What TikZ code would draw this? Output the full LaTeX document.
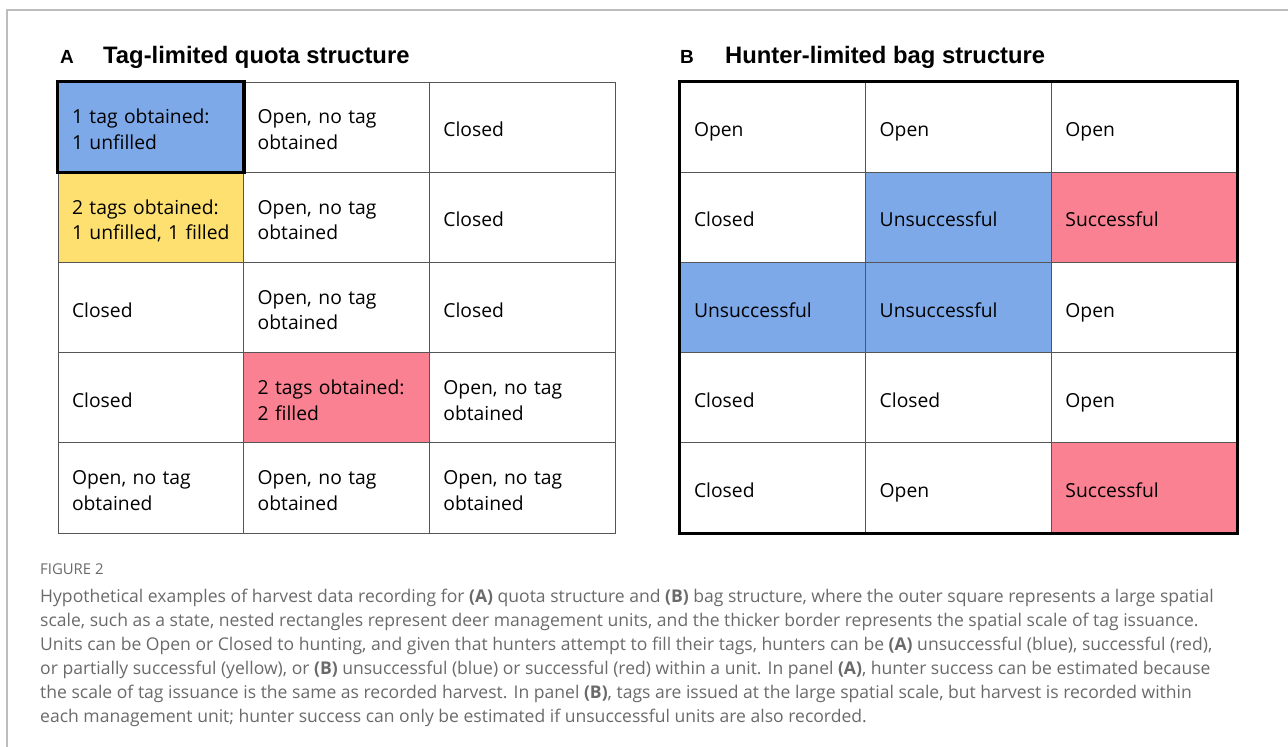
\documentclass[tikz,border=0pt]{standalone}
\usepackage{fontspec}
\setmainfont{Open Sans}
\newfontfamily\titlefont{Liberation Sans}
\newfontfamily\cellfont{Open Sans}

\definecolor{unfilled}{HTML}{7DA9E9}
\definecolor{partial}{HTML}{FDE06F}
\definecolor{filled}{HTML}{F98192}
\definecolor{gridline}{HTML}{555555}
\definecolor{captiongray}{HTML}{6A6A6A}
\definecolor{framegray}{HTML}{BDBDBD}

% uneven struts so every unit's text sits a little below centre
\newcommand{\unittop}{\rule{0pt}{27pt}}
\newcommand{\unitbottom}{\rule[-8pt]{0pt}{8pt}}

\begin{document}
\begin{tikzpicture}[
	x=1pt, y=-1pt,
	unit/.style={draw=gridline, line width=1pt, rectangle, minimum width=185.7pt,
		minimum height=90.2pt, text width=157.7pt, inner xsep=14pt, inner ysep=0pt,
		align=left, font=\cellfont\fontsize{19.3}{25.6}\selectfont,
		execute at begin node=\unittop, execute at end node=\unitbottom},
	issue border/.style={draw=black, line width=3.5pt},
	panel letter/.style={anchor=base west, inner sep=0pt, font=\titlefont\bfseries\fontsize{19}{20}\selectfont},
	panel title/.style={anchor=base west, inner sep=0pt, font=\titlefont\bfseries\fontsize{23.8}{26}\selectfont},
	caption/.style={anchor=base west, text=captiongray, inner sep=0pt, align=left}]

	\useasboundingbox (0,0) rectangle (1288,747);
	\draw[framegray, line width=1.5pt] (1288,10) -| (7,747);

	% panel A: tags issued per unit
	\node[panel letter] (A-letter) at (60,63) {A};
	\node[panel title] (A-title) at (103,63) {Tag-limited quota structure};
	\foreach \c/\r/\txt/\shade in {
		1/1/{1 tag obtained:\\1 unfilled}/unfilled, 2/1/{Open, no tag\\obtained}/white, 3/1/{Closed}/white,
		1/2/{2 tags obtained:\\1 unfilled, 1 filled}/partial, 2/2/{Open, no tag\\obtained}/white, 3/2/{Closed}/white,
		1/3/{Closed}/white, 2/3/{Open, no tag\\obtained}/white, 3/3/{Closed}/white,
		1/4/{Closed}/white, 2/4/{2 tags obtained:\\2 filled}/filled, 3/4/{Open, no tag\\obtained}/white,
		1/5/{Open, no tag\\obtained}/white, 2/5/{Open, no tag\\obtained}/white, 3/5/{Open, no tag\\obtained}/white}
		\node[unit, fill=\shade] (A-\r-\c) at ({58+(\c-0.5)*185.7}, {82+(\r-0.5)*90.2}) {\txt};
	\draw[issue border] (A-1-1.north west) rectangle (A-1-1.south east);

	% panel B: tags issued over the whole area
	\node[panel letter] (B-letter) at (680,63) {B};
	\node[panel title] (B-title) at (725,63) {Hunter-limited bag structure};
	\foreach \c/\r/\txt/\shade in {
		1/1/Open/white, 2/1/Open/white, 3/1/Open/white,
		1/2/Closed/white, 2/2/Unsuccessful/unfilled, 3/2/Successful/filled,
		1/3/Unsuccessful/unfilled, 2/3/Unsuccessful/unfilled, 3/3/Open/white,
		1/4/Closed/white, 2/4/Closed/white, 3/4/Open/white,
		1/5/Closed/white, 2/5/Open/white, 3/5/Successful/filled}
		\node[unit, fill=\shade] (B-\r-\c) at ({680+(\c-0.5)*185.7}, {82+(\r-0.5)*90.2}) {\txt};
	\draw[issue border] (B-1-1.north west) rectangle (B-5-3.south east);

	% caption (base anchor sits on the last line)
	\node[caption, font=\fontsize{14.9}{16}\selectfont] (fig-label) at (40,574.5) {FIGURE 2};
	\node[caption, font=\fontsize{17.55}{24}\selectfont] (fig-caption) at (40,722) {%
		Hypothetical examples of harvest data recording for \textbf{(A)} quota structure and \textbf{(B)} bag structure, where the outer square represents a large spatial\\
		scale, such as a state, nested rectangles represent deer management units, and the thicker border represents the spatial scale of tag issuance.\\
		Units can be Open or Closed to hunting, and given that hunters attempt to fill their tags, hunters can be \textbf{(A)} unsuccessful (blue), successful (red),\\
		or partially successful (yellow), or \textbf{(B)} unsuccessful (blue) or successful (red) within a unit. In panel \textbf{(A)}, hunter success can be estimated because\\
		the scale of tag issuance is the same as recorded harvest. In panel \textbf{(B)}, tags are issued at the large spatial scale, but harvest is recorded within\\
		each management unit; hunter success can only be estimated if unsuccessful units are also recorded.};
\end{tikzpicture}
\end{document}
